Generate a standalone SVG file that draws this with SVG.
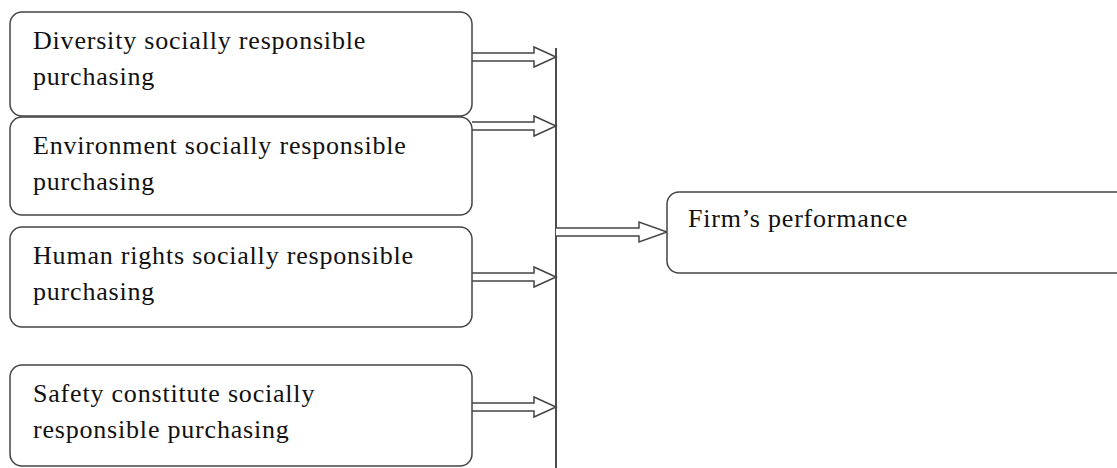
<svg xmlns="http://www.w3.org/2000/svg" width="1117" height="468" viewBox="0 0 1117 468">
<style>
.box{fill:#fff;stroke:#444;stroke-width:1.5}
.t{font-family:"Liberation Serif","Times New Roman",serif;font-size:26px;fill:#111;letter-spacing:0.8px}
.arr{fill:#fff;stroke:#444;stroke-width:1.5;stroke-linejoin:miter}
</style>
<rect width="1117" height="468" fill="#fff"/>
<g id="connectors">
<line x1="556" y1="48" x2="556" y2="468" stroke="#111" stroke-width="1.5"/>
<path class="arr" d="M472,53 L534,53 L534,47 L556,57 L534,67 L534,61 L472,61"/>
<path class="arr" d="M472,122 L534,122 L534,116 L556,126 L534,136 L534,130 L472,130"/>
<path class="arr" d="M472,273 L534,273 L534,267 L556,277 L534,287 L534,281 L472,281"/>
<path class="arr" d="M472,403 L534,403 L534,397 L556,407 L534,417 L534,411 L472,411"/>
<path class="arr" d="M556,228 L639,228 L639,222 L667,232 L639,242 L639,236 L556,236"/>
</g>
<g id="n1">
<rect class="box" x="10" y="12" width="462" height="104" rx="12"/>
<text class="t" x="33" y="49">Diversity socially responsible</text>
<text class="t" x="33" y="85">purchasing</text>
</g>
<g id="n2">
<rect class="box" x="10" y="117" width="462" height="98" rx="12"/>
<text class="t" x="33" y="154">Environment socially responsible</text>
<text class="t" x="33" y="190">purchasing</text>
</g>
<g id="n3">
<rect class="box" x="10" y="227" width="462" height="100" rx="12"/>
<text class="t" x="33" y="264">Human rights socially responsible</text>
<text class="t" x="33" y="300">purchasing</text>
</g>
<g id="n4">
<rect class="box" x="10" y="365" width="462" height="101" rx="12"/>
<text class="t" x="33" y="402">Safety constitute socially</text>
<text class="t" x="33" y="438">responsible purchasing</text>
</g>
<g id="n5">
<rect class="box" x="667" y="192" width="470" height="81" rx="12"/>
<text class="t" x="688" y="227">Firm’s performance</text>
</g>
</svg>
